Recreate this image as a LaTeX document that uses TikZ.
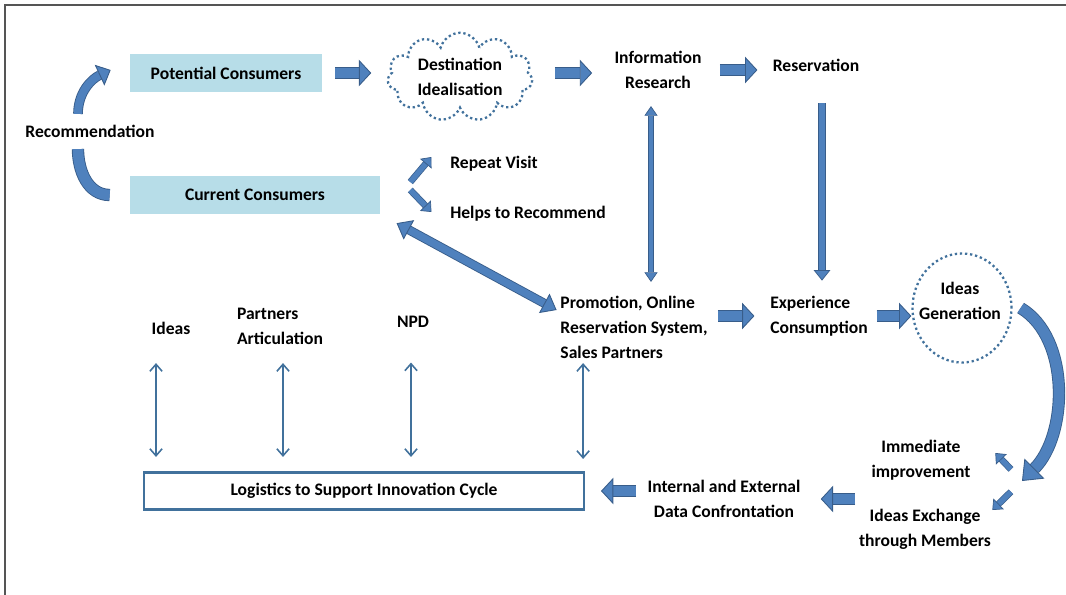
\documentclass[tikz,border=0pt]{standalone}
\usepackage{fontspec}
\setmainfont{Carlito}
\usetikzlibrary{arrows.meta,shapes.geometric,shapes.symbols,calc}

\definecolor{boxblue}{HTML}{B7DDE8}
\definecolor{arrfill}{HTML}{4F81BD}
\definecolor{arrline}{HTML}{385D8A}
\definecolor{dotblue}{HTML}{41719C}
\definecolor{framegray}{HTML}{555555}

\tikzset{
  lbl/.style={font=\bfseries\fontsize{10}{14.2}\selectfont, inner sep=2pt},
  lbll/.style={lbl, align=left},
  lblc/.style={lbl, align=center},
  consbox/.style={lbl, fill=boxblue, minimum height=0.76cm},
  dotline/.style={draw=dotblue, line width=1.3pt, dash pattern=on 1.3pt off 1.6pt},
  blockarr/.style={draw=arrline, double=arrfill, line width=0.5pt, double distance=6pt,
    -{Triangle[length=7pt,width=15pt,line width=0.5pt,fill=arrfill,color=arrline]}},
  smallarr/.style={draw=arrline, double=arrfill, line width=0.4pt, double distance=3pt,
    -{Triangle[length=5pt,width=8.5pt,line width=0.4pt,fill=arrfill,color=arrline]}},
  thinblk/.style={draw=arrline, double=arrfill, line width=0.4pt, double distance=2.6pt,
    {Triangle[length=5.5pt,width=7.5pt,line width=0.4pt,fill=arrfill,color=arrline]}-{Triangle[length=5.5pt,width=7.5pt,line width=0.4pt,fill=arrfill,color=arrline]}},
  downblk/.style={draw=arrline, double=arrfill, line width=0.4pt, double distance=3.4pt,
    -{Triangle[length=6pt,width=9.5pt,line width=0.4pt,fill=arrfill,color=arrline]}},
  diagblk/.style={draw=arrline, double=arrfill, line width=0.5pt, double distance=4.2pt,
    {Triangle[length=8pt,width=12.5pt,line width=0.5pt,fill=arrfill,color=arrline]}-{Triangle[length=8pt,width=12.5pt,line width=0.5pt,fill=arrfill,color=arrline]}},
  curvearr/.style={draw=arrline, double=arrfill, line width=0.5pt, double distance=4.5pt},
  thinarr/.style={draw=dotblue, line width=0.9pt,
    {Straight Barb[length=4pt,width=7pt]}-{Straight Barb[length=4pt,width=7pt]}}
}

\begin{document}
\begin{tikzpicture}[x=0.02cm, y=-0.02cm]
        \useasboundingbox (0,0) rectangle (1066,595);
        \draw [framegray, line width=1pt] (5,595) -- (5,5) -- (1066,5);

        % top row
        \node [lblc] (rec) at (90,131) {Recommendation};
        \node [consbox, minimum width=3.84cm] (pot) at (226,73) {Potential Consumers};
        \node [consbox, minimum width=5cm] (cur) at (255,195) {Current Consumers};
        \node [lblc, cloud, cloud puffs=11, cloud ignores aspect, dotline,
               minimum width=2.9cm, minimum height=1.66cm] (dest) at (460,77) {Destination\\Idealisation};
        \node [lblc] (info) at (658,70) {Information\\Research};
        \node [lbl] (resv) at (816,65) {Reservation};
        \node [lbl] (rep) at (494,164) {Repeat Visit};
        \node [lbl] (help) at (528,214) {Helps to Recommend};

        % middle row
        \node [lbll] (promo) at (634,327) {Promotion, Online\\Reservation System,\\Sales Partners};
        \node [lbll] (exp) at (819,316) {Experience\\Consumption};
        \node [ellipse, dotline, inner sep=0pt, minimum width=1.98cm, minimum height=2.18cm] (genring) at (962,308) {};
        \node [lblc] (gen) at (960,301) {Ideas\\Generation};
        \node [lbl] (ideas) at (171,328) {Ideas};
        \node [lbll] (part) at (280,326) {Partners\\Articulation};
        \node [lbl] (npd) at (413,322) {NPD};

        % bottom row
        \node [lblc] (imm) at (921,460) {Immediate\\improvement};
        \node [lblc] (exch) at (925,529) {Ideas Exchange\\through Members};
        \node [lblc] (data) at (724,499) {Internal and External\\Data Confrontation};
        \node [lbl, draw=dotblue, line width=1.2pt, minimum width=8.8cm, minimum height=0.74cm] (logi) at (364,491) {Logistics to Support Innovation Cycle};
        \coordinate (split) at (1022,481);

        % flow arrows
        \draw [blockarr, shorten <=0.26cm, shorten >=0.32cm] (pot.east) -- (pot.east -| dest.west);
        \draw [blockarr, shorten <=0.44cm, shorten >=0.37cm] (dest.east |- pot.east) -- (pot.east -| info.west);
        \draw [blockarr, shorten <=0.29cm, shorten >=0.23cm] (info.east) -- (info.east -| resv.west);
        \draw [blockarr, shorten <=0.13cm, shorten >=0.24cm] (exp.west -| promo.east) -- (exp.west);
        \draw [blockarr, shorten <=0.1cm] (exp.east) -- (exp.east -| genring.west);
        \draw [blockarr, shorten >=0.33cm] (exch.west |- data.east) -- (data.east);
        \draw [blockarr, shorten <=0.15cm, shorten >=0.32cm] (data.west |- logi.east) -- (logi.east);

        \draw [thinblk, shorten <=0.27cm, shorten >=0.2cm] ($(info.south)+(-0.14cm,0)$) -- ($(info.south |- promo.north)+(-0.14cm,0)$);
        \draw [downblk, shorten <=0.56cm, shorten >=0.23cm] ($(resv.south)+(0.12cm,0)$) -- ($(resv.south |- exp.north)+(0.12cm,0)$);
        \draw [diagblk, shorten <=0.37cm] (cur.south east) -- ($(promo.west)+(0,0.34cm)$);

        \draw [smallarr] ($(cur.east)+(0.6cm,0.26cm)$) -- ($(rep.west)+(-0.3cm,0.14cm)$);
        \draw [smallarr] ($(cur.east)+(0.6cm,0.1cm)$) -- ($(help.west)+(-0.3cm,0.04cm)$);

        % recommendation loop
        \draw [curvearr, -{Triangle[length=7pt,width=13pt,line width=0.5pt,fill=arrfill,color=arrline]}]
              ($(rec.north)+(-0.24cm,0.14cm)$) to [out=90, in=205] ($(pot.west)+(-0.38cm,0.06cm)$);
        \draw [curvearr, double distance=6pt] ($(rec.south)+(-0.24cm,-0.16cm)$) to [out=-90, in=180] ($(cur.west)+(-0.4cm,0)$);

        % improvement loop
        \draw [curvearr, double distance=6pt, -{Triangle[length=10pt,width=16pt,line width=0.5pt,fill=arrfill,color=arrline]}]
              ($(genring.east)+(0.16cm,0)$) .. controls +(1cm,-0.6cm) and +(0.92cm,0.92cm) .. (split);
        \draw [smallarr, shorten <=0.32cm] (split) -- ($(imm.east)+(0.42cm,0.14cm)$);
        \draw [smallarr, shorten <=0.31cm] (split) -- ($(exch.east)+(-0.05cm,0.38cm)$);

        % links to logistics
        \draw [thinarr, shorten <=0.5cm, shorten >=0.29cm] ($(ideas.south)+(-0.3cm,0)$) -- ($(ideas.south |- logi.north)+(-0.3cm,0)$);
        \draw [thinarr, shorten <=0.3cm, shorten >=0.29cm] ($(part.south)+(0.06cm,0)$) -- ($(part.south |- logi.north)+(0.06cm,0)$);
        \draw [thinarr, shorten <=0.62cm, shorten >=0.29cm] ($(npd.south)+(-0.04cm,0)$) -- ($(npd.south |- logi.north)+(-0.04cm,0)$);
        \draw [thinarr, shorten <=0.02cm, shorten >=0.25cm] ($(promo.south west)+(0.53cm,0)$) -- ($(promo.south west |- logi.north)+(0.53cm,0)$);
    \end{tikzpicture}
\end{document}
